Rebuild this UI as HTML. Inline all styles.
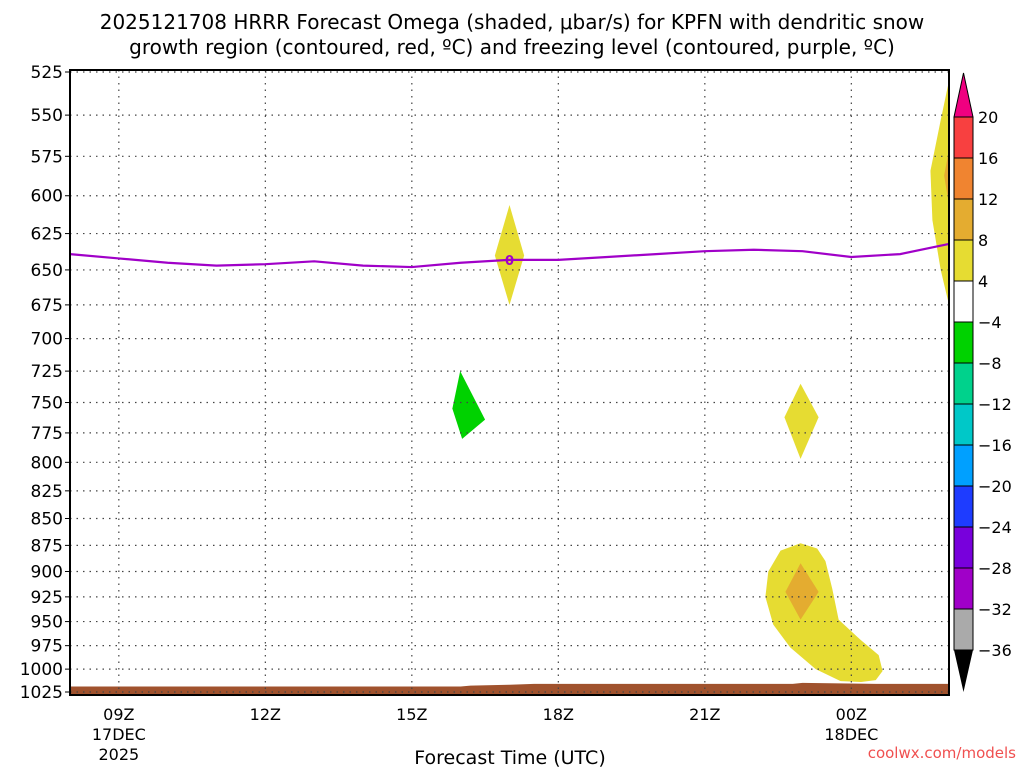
<!DOCTYPE html>
<html><head><meta charset="utf-8"><style>
body{margin:0;background:#fff;}
svg{display:block;font-family:"DejaVu Sans","Liberation Sans",sans-serif;}
</style></head><body>
<svg id="c" width="1024" height="768" viewBox="0 0 1024 768">
<text x="512" y="29" text-anchor="middle" font-size="20">2025121708 HRRR Forecast Omega (shaded, μbar/s) for KPFN with dendritic snow</text>
<text x="512" y="54" text-anchor="middle" font-size="20">growth region (contoured, red, ºC) and freezing level (contoured, purple, ºC)</text>
<g id="plot"></g>
<g id="cbar"></g>
<text x="510" y="764" text-anchor="middle" font-size="19">Forecast Time (UTC)</text>
<text x="1016" y="758" text-anchor="end" font-size="15" fill="#f05050">coolwx.com/models</text>
</svg>
<script>
const pTicks=[525,550,575,600,625,650,675,700,725,750,775,800,825,850,875,900,925,950,975,1000,1025];
const xTickHours=[1,4,7,10,13,16];
const xTickLabels=[["09Z","17DEC","2025"],["12Z"],["15Z"],["18Z"],["21Z"],["00Z","18DEC"]];
const freezeHours=[0,1,2,3,4,5,6,7,8,9,10,11,12,13,14,15,16,17,18];
const freezeP=[639,642,645,647,646,644,647,648,645,643,643,641,639,637,636,637,641,639,632];
const surfHours=[0,8,8.2,9,9.5,10,14.8,15,16.5,18];
const surfP=[1019,1019,1018,1017,1016,1016,1016,1015,1016,1016];
const blobYellow1=[[9,606],[9.3,640],[9,675],[8.7,640]];
const blobGreen=[[7.99,725],[8.5,764],[8.03,780],[7.83,755]];
const blobYellow2=[[14.96,735],[15.33,762],[14.96,797],[14.63,762]];
const blobYellow3=[[14.96,873],[15.3,878],[15.47,890],[15.61,917],[15.74,948],[16.19,969],[16.56,985],[16.64,1002],[16.5,1012],[16.2,1014],[15.78,1013],[15.27,1000],[14.75,977],[14.4,953],[14.24,925],[14.3,900],[14.55,880]];
const blobOrange1=[[14.96,892],[15.33,920],[14.96,948],[14.65,920]];
const blobYellow4=[[18,530],[17.83,553],[17.62,584],[17.66,616],[17.83,650],[18,675]];
const blobOrange2=[[18,571],[17.9,587],[18,606]];
const cbarLabels=["20","16","12","8","4","−4","−8","−12","−16","−20","−24","−28","−32","−36"];
const cbarColors=["#f84040","#f08430","#e4ac30","#e6dc32","#ffffff","#00d200","#00d28c","#00c8c8","#00a0ff","#1e3cff","#7800dc","#a000c8","#aaaaaa"];

const NS="http://www.w3.org/2000/svg";
const L=70,R=949,T=70,B=695,Y0=72,YH=620;
const X=h=>L+h*(R-L)/18;
const Y=p=>Y0+(Math.log(p)-Math.log(525))/(Math.log(1025)-Math.log(525))*YH;
function mk(tag,attrs,parent){const e=document.createElementNS(NS,tag);for(const k in attrs)e.setAttribute(k,attrs[k]);parent.appendChild(e);return e;}
const plot=document.getElementById('plot');
const poly=(pts,col,name)=>{const e=mk('polygon',{points:pts.map(q=>X(q[0])+','+Y(q[1])).join(' '),fill:col},plot);

};
poly(blobYellow4,'#e6dc32','omega-yellow-right');
poly(blobOrange2,'#e4ac30','omega-orange-right');
poly(blobYellow1,'#e6dc32','omega-yellow-650');
poly(blobGreen,'#00d200','omega-green-750');
poly(blobYellow2,'#e6dc32','omega-yellow-765');
poly(blobYellow3,'#e6dc32','omega-yellow-low');
poly(blobOrange1,'#e4ac30','omega-orange-low');
{let pts=[];surfHours.forEach((h,i)=>{pts.push([h,surfP[i]]);});
let d='M'+X(0)+','+B+' '+pts.map(q=>'L'+X(q[0])+','+Y(q[1])).join(' ')+' L'+X(18)+','+B+'Z';
const e=mk('path',{d:d,fill:'#a0522d'},plot);

}
pTicks.forEach(p=>{const y=Y(p);
const g=mk('line',{x1:L,x2:R,y1:y,y2:y,stroke:'#444','stroke-dasharray':'1.5,5','stroke-width':1.2},plot);


mk('line',{x1:L-5,x2:L,y1:y,y2:y,stroke:'#000'},plot);
const t=mk('text',{x:L-7,y:y+6,'text-anchor':'end','font-size':17},plot);t.textContent=p;

});
xTickHours.forEach((h,i)=>{const x=X(h);
const g=mk('line',{x1:x,x2:x,y1:T,y2:B,stroke:'#444','stroke-dasharray':'1.5,5','stroke-width':1.2},plot);


xTickLabels[i].forEach((s,j)=>{const t=mk('text',{x:x,y:720+j*20,'text-anchor':'middle','font-size':16},plot);t.textContent=s;

});});
{const d=freezeHours.map((h,i)=>(i?'L':'M')+X(h)+','+Y(freezeP[i])).join(' ');
const e=mk('path',{d:d,fill:'none',stroke:'#a000c8','stroke-width':2.2},plot);


const t=mk('text',{x:X(9),y:Y(freezeP[9])+5,'text-anchor':'middle','font-size':13,fill:'#a000c8','font-weight':'bold'},plot);t.textContent='0';

}
{const f=mk('rect',{x:L,y:T,width:R-L,height:B-T,fill:'none',stroke:'#000','stroke-width':2},plot);

}
const cb=document.getElementById('cbar');const cx=954,cw=19,ct=117,ch=41;
{const e=mk('polygon',{points:`${cx},${ct} ${cx+cw},${ct} ${cx+cw/2},${ct-44}`,fill:'#f00080',stroke:'#000'},cb);

}
cbarColors.forEach((c,i)=>{const e=mk('rect',{x:cx,y:ct+i*ch,width:cw,height:ch,fill:c,stroke:'#000'},cb);

});
{const yb=ct+cbarColors.length*ch;const e=mk('polygon',{points:`${cx},${yb} ${cx+cw},${yb} ${cx+cw/2},${yb+42}`,fill:'#000'},cb);

}
cbarLabels.forEach((s,i)=>{const t=mk('text',{x:978,y:ct+i*ch+6,'font-size':16},cb);t.textContent=s;

});
</script>
</body></html>
